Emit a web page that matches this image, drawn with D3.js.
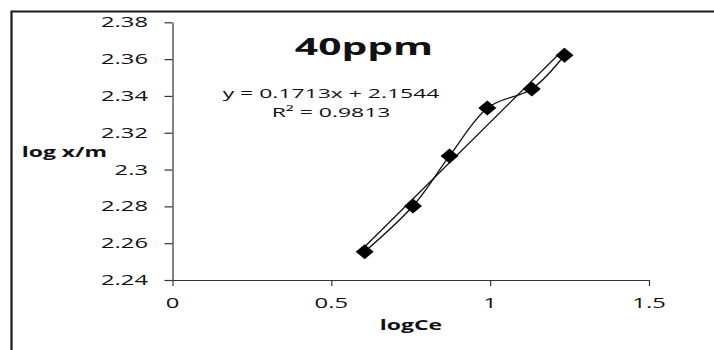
<!DOCTYPE html>
<html>
<head>
<meta charset="utf-8">
<script src="https://cdn.jsdelivr.net/npm/d3@7"></script>
<style>
  html, body { margin: 0; padding: 0; background: #fff; }
  svg { display: block; }
  text { font-family: "Open Sans", "Liberation Sans", sans-serif; fill: #111; }
</style>
</head>
<body>
<svg id="chart" width="714" height="350"></svg>
<script>
// ---- data ----
const logCe = [0.605, 0.757, 0.872, 0.991, 1.131, 1.234];
const logXm = [2.2554, 2.2802, 2.3074, 2.3334, 2.3438, 2.3621];
const trendSlope = [0.1713];
const trendIntercept = [2.1544];
const xTicks = [0, 0.5, 1, 1.5];
const xTickLabels = ["0", "0.5", "1", "1.5"];
const yTicks = [2.24, 2.26, 2.28, 2.3, 2.32, 2.34, 2.36, 2.38];
const yTickLabels = ["2.24", "2.26", "2.28", "2.3", "2.32", "2.34", "2.36", "2.38"];
const titleText = ["40ppm"];
const eqText = ["y = 0.1713x + 2.1544", "R² = 0.9813"];
const axisTitles = ["logCe", "log x/m"];

// ---- layout ----
const SX = 1.7; // horizontal text stretch seen in the reference
const svg = d3.select("#chart");
const x = d3.scaleLinear().domain([0, 1.5]).range([172.5, 649]);
const y = d3.scaleLinear().domain([2.24, 2.38]).range([280, 22.3]);

function stretchedText(g, str, tx, ty, anchor, size, weight) {
  return g.append("text")
    .attr("transform", `translate(${tx},${ty}) scale(${SX},1)`)
    .attr("text-anchor", anchor)
    .attr("font-size", size)
    .attr("font-weight", weight)
    .text(str);
}

// outer border (left + top visible)
svg.append("path")
  .attr("d", "M11.5,350 L11.5,11.5 L714,11.5")
  .attr("fill", "none").attr("stroke", "#1a1a1a").attr("stroke-width", 2.2);

// axes
const axisColor = "#333";
const yAxis = svg.append("g").attr("transform", `translate(${x(0)},0)`)
  .call(d3.axisLeft(y).tickValues(yTicks).tickSize(8).tickSizeOuter(0).tickFormat(""));
const xAxis = svg.append("g").attr("transform", `translate(0,${y(2.24)})`)
  .call(d3.axisBottom(x).tickValues(xTicks).tickSize(6).tickSizeOuter(0).tickFormat(""));
[xAxis, yAxis].forEach(a => {
  a.selectAll("path, line").attr("stroke", axisColor).attr("stroke-width", 1.2);
});

const labels = svg.append("g");
yTicks.forEach((v, i) => stretchedText(labels, yTickLabels[i], 148 / SX * SX, y(v) + 5, "end", 14, 400)
  .attr("transform", `translate(148,${y(v) + 5}) scale(${SX},1)`));
xTicks.forEach((v, i) => stretchedText(labels, xTickLabels[i], x(v), y(2.24) + 27.7, "middle", 14, 400));

// axis titles
stretchedText(labels, axisTitles[0], 411, 330, "middle", 13.5, 700);
stretchedText(labels, axisTitles[1], 21.7, 156.7, "start", 13.5, 700);

// chart title
stretchedText(labels, titleText[0], 364, 54.5, "middle", 24, 700);

// trendline equation
stretchedText(labels, eqText[0], 331, 97.5, "middle", 13.5, 400);
stretchedText(labels, eqText[1], 331, 116.5, "middle", 13.5, 400);

// data
const pts = logCe.map((v, i) => [v, logXm[i]]);

// linear trendline over data range
const xMin = d3.min(logCe), xMax = d3.max(logCe);
svg.append("line")
  .attr("x1", x(xMin)).attr("y1", y(trendSlope[0] * xMin + trendIntercept[0]))
  .attr("x2", x(xMax)).attr("y2", y(trendSlope[0] * xMax + trendIntercept[0]))
  .attr("stroke", "#111").attr("stroke-width", 1.3);

// smoothed series line
svg.append("path")
  .datum(pts)
  .attr("d", d3.line().x(d => x(d[0])).y(d => y(d[1])).curve(d3.curveCatmullRom.alpha(0)))
  .attr("fill", "none").attr("stroke", "#111").attr("stroke-width", 1.3);

// diamond markers
const hw = 9, hh = 7.5;
svg.append("g").selectAll("path").data(pts).join("path")
  .attr("transform", d => `translate(${x(d[0])},${y(d[1])})`)
  .attr("d", `M0,${-hh} L${hw},0 L0,${hh} L${-hw},0 Z`)
  .attr("fill", "#000");
</script>
</body>
</html>
